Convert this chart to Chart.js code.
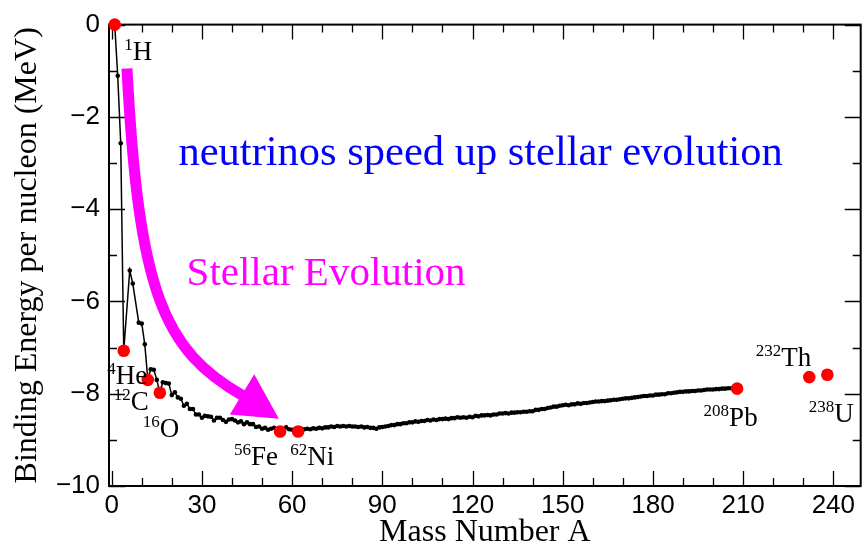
<!DOCTYPE html>
<html>
<head>
<meta charset="utf-8">
<script src="https://cdn.jsdelivr.net/npm/chart.js@4.4.1/dist/chart.umd.min.js"></script>
<style>
  html, body { margin: 0; padding: 0; background: #fff; }
  #wrap { width: 867px; height: 552px; }
</style>
</head>
<body>
<div id="wrap"><canvas id="myChart" width="867" height="552"></canvas></div>
<script>
const massNumber = [
  1, 2, 3, 4, 6, 7, 9, 10, 11, 12,
  13, 14, 15, 16, 17, 18, 19, 20, 21, 22,
  23, 24, 25, 26, 27, 28, 29, 30, 31, 32,
  33, 34, 35, 36, 37, 38, 39, 40, 41, 42,
  43, 44, 45, 46, 47, 48, 49, 50, 51, 52,
  53, 54, 55, 56, 57, 58, 59, 60, 61, 62,
  63, 64, 65, 66, 67, 68, 69, 70, 71, 72,
  73, 74, 75, 76, 77, 78, 79, 80, 81, 82,
  83, 84, 85, 86, 87, 88, 89, 90, 91, 92,
  93, 94, 95, 96, 97, 98, 99, 100, 101, 102,
  103, 104, 105, 106, 107, 108, 109, 110, 111, 112,
  113, 114, 115, 116, 117, 118, 119, 120, 121, 122,
  123, 124, 125, 126, 127, 128, 129, 130, 131, 132,
  133, 134, 135, 136, 137, 138, 139, 140, 141, 142,
  143, 144, 145, 146, 147, 148, 149, 150, 151, 152,
  153, 154, 155, 156, 157, 158, 159, 160, 161, 162,
  163, 164, 165, 166, 167, 168, 169, 170, 171, 172,
  173, 174, 175, 176, 177, 178, 179, 180, 181, 182,
  183, 184, 185, 186, 187, 188, 189, 190, 191, 192,
  193, 194, 195, 196, 197, 198, 199, 200, 201, 202,
  203, 204, 205, 206, 207, 208
];
const bindingEnergy = [
  0, -1.11, -2.57, -7.07, -5.33, -5.61, -6.46, -6.48, -6.93, -7.68,
  -7.47, -7.48, -7.70, -7.98, -7.75, -7.77, -7.78, -8.03, -7.97, -8.08,
  -8.11, -8.26, -8.22, -8.33, -8.33, -8.45, -8.45, -8.52, -8.48, -8.49,
  -8.50, -8.58, -8.52, -8.52, -8.57, -8.61, -8.56, -8.55, -8.58, -8.62,
  -8.60, -8.66, -8.62, -8.66, -8.66, -8.72, -8.71, -8.76, -8.74, -8.78,
  -8.76, -8.74, -8.77, -8.79, -8.77, -8.73, -8.77, -8.78, -8.77, -8.79,
  -8.76, -8.77, -8.76, -8.77, -8.75, -8.76, -8.74, -8.75, -8.73, -8.73,
  -8.71, -8.72, -8.70, -8.71, -8.70, -8.71, -8.70, -8.71, -8.71, -8.72,
  -8.71, -8.73, -8.72, -8.74, -8.74, -8.76, -8.73, -8.72, -8.71, -8.70,
  -8.68, -8.68, -8.66, -8.66, -8.64, -8.64, -8.62, -8.62, -8.60, -8.61,
  -8.59, -8.59, -8.57, -8.58, -8.56, -8.57, -8.55, -8.55, -8.54, -8.55,
  -8.53, -8.53, -8.51, -8.52, -8.51, -8.52, -8.50, -8.51, -8.48, -8.49,
  -8.47, -8.47, -8.46, -8.47, -8.45, -8.45, -8.43, -8.43, -8.42, -8.43,
  -8.41, -8.41, -8.40, -8.40, -8.39, -8.39, -8.38, -8.38, -8.35, -8.35,
  -8.33, -8.33, -8.31, -8.30, -8.28, -8.28, -8.26, -8.25, -8.24, -8.25,
  -8.23, -8.23, -8.21, -8.22, -8.20, -8.20, -8.19, -8.18, -8.17, -8.17,
  -8.16, -8.16, -8.15, -8.14, -8.13, -8.13, -8.12, -8.11, -8.10, -8.10,
  -8.09, -8.08, -8.07, -8.06, -8.05, -8.05, -8.04, -8.04, -8.02, -8.02,
  -8.01, -8.01, -7.99, -7.99, -7.98, -7.97, -7.96, -7.96, -7.95, -7.95,
  -7.94, -7.94, -7.93, -7.93, -7.92, -7.91, -7.91, -7.91, -7.90, -7.90,
  -7.89, -7.89, -7.88, -7.88, -7.87, -7.87
];
const isotopeMass = [1, 4, 12, 16, 56, 62, 208, 232, 238];
const isotopeEnergy = [0, -7.07, -7.70, -7.98, -8.82, -8.82, -7.89, -7.64, -7.59];
const isotopeSymbol = ["H", "He", "C", "O", "Fe", "Ni", "Pb", "Th", "U"];
const xTicks = [0, 30, 60, 90, 120, 150, 180, 210, 240];
const yTicks = [0, -2, -4, -6, -8, -10];
const xTitle = "Mass Number A";
const yTitle = "Binding Energy per nucleon (MeV)";
const headline = "neutrinos speed up stellar evolution";
const arrowLabel = "Stellar Evolution";

// label placement, px from each red dot: [left of symbol, baseline]
const labelOffsets = [[18, 35], [-8, 33], [-17, 30], [0, 44], [-29, 33], [9, 33], [-8, 37], [-28, -11], [7, 47]];
// big magenta arrow, in data units
const arrow = {
  start: [5.07, -0.95], c1: [9.0, -5.80], c2: [17.0, -7.05], end: [43.8, -8.05],
  tip: [55.6, -8.54], wingA: [39.3, -8.45], wingB: [47.4, -7.58]
};

const curve = massNumber.map((a, i) => ({x: a, y: bindingEnergy[i]}));
const isotopes = isotopeMass.map((a, i) => ({x: a, y: isotopeEnergy[i]}));

const decorations = {
  id: "decorations",
  beforeDatasetsDraw(chart) {
    const {ctx, chartArea: a, scales: {x, y}} = chart;
    const p = (pt) => [x.getPixelForValue(pt[0]), y.getPixelForValue(pt[1])];
    ctx.save();
    // frame + inward ticks on all four sides
    ctx.strokeStyle = "#000";
    ctx.lineWidth = 2;
    ctx.strokeRect(a.left, a.top, a.right - a.left, a.bottom - a.top);
    ctx.lineWidth = 1.3;
    ctx.beginPath();
    for (let v = 0; v <= 240; v += 10) {
      const px = Math.round(x.getPixelForValue(v)) + 0.5;
      const len = v % 30 === 0 ? 15 : 8;
      ctx.moveTo(px, a.bottom); ctx.lineTo(px, a.bottom - len);
      ctx.moveTo(px, a.top); ctx.lineTo(px, a.top + len);
    }
    for (let v = -10; v <= 0; v += 1) {
      const py = Math.round(y.getPixelForValue(v)) + 0.5;
      const len = v % 2 === 0 ? 16 : 8;
      ctx.moveTo(a.left, py); ctx.lineTo(a.left + len, py);
      ctx.moveTo(a.right, py); ctx.lineTo(a.right - len, py);
    }
    ctx.stroke();
    // arrow
    ctx.strokeStyle = "#ff00ff";
    ctx.fillStyle = "#ff00ff";
    ctx.lineWidth = 11;
    ctx.beginPath();
    ctx.moveTo(...p(arrow.start));
    ctx.bezierCurveTo(...p(arrow.c1), ...p(arrow.c2), ...p(arrow.end));
    ctx.stroke();
    ctx.beginPath();
    ctx.moveTo(...p(arrow.tip));
    ctx.lineTo(...p(arrow.wingA));
    ctx.lineTo(...p(arrow.wingB));
    ctx.closePath();
    ctx.fill();
    ctx.restore();
  },
  afterDatasetsDraw(chart) {
    const {ctx, scales: {x, y}} = chart;
    ctx.save();
    ctx.textBaseline = "alphabetic";
    ctx.textAlign = "left";
    ctx.fillStyle = "#0000ff";
    ctx.font = '42.5px "Liberation Serif"';
    ctx.fillText(headline, x.getPixelForValue(22.2), y.getPixelForValue(-3.05));
    ctx.fillStyle = "#ff00ff";
    ctx.font = '41px "Liberation Serif"';
    ctx.fillText(arrowLabel, x.getPixelForValue(24.9), y.getPixelForValue(-5.64));
    ctx.fillStyle = "#000";
    isotopeMass.forEach((m, i) => {
      const lx = x.getPixelForValue(m) + labelOffsets[i][0];
      const ly = y.getPixelForValue(isotopeEnergy[i]) + labelOffsets[i][1];
      ctx.textAlign = "left";
      ctx.font = '27px "Liberation Serif"';
      ctx.fillText(isotopeSymbol[i], lx, ly);
      ctx.textAlign = "right";
      ctx.font = '17px "Liberation Serif"';
      ctx.fillText(String(m), lx, ly - 10);
    });
    ctx.restore();
  }
};

new Chart(document.getElementById("myChart"), {
  type: "scatter",
  data: {
    datasets: [
      {
        data: isotopes,
        showLine: false,
        pointRadius: 6.3,
        pointBackgroundColor: "#ff0000",
        pointBorderWidth: 0,
        clip: false
      },
      {
        data: curve,
        showLine: true,
        borderColor: "#000",
        borderWidth: 1.5,
        pointRadius: 2.3,
        pointBackgroundColor: "#000",
        pointBorderWidth: 0,
        clip: false
      }
    ]
  },
  options: {
    responsive: false,
    animation: false,
    devicePixelRatio: 1,
    layout: { padding: { left: 0, right: 3, top: 17.5, bottom: 0 } },
    plugins: { legend: { display: false }, tooltip: { enabled: false } },
    scales: {
      x: {
        type: "linear",
        min: -0.9,
        max: 249.1,
        grid: { display: false, drawTicks: false },
        border: { display: false },
        afterBuildTicks: s => { s.ticks = xTicks.map(v => ({value: v})); },
        afterFit: s => { s.height = 66; },
        ticks: { color: "#000", font: { family: "Liberation Sans", size: 26 }, padding: 4, maxRotation: 0, autoSkip: false },
        title: { display: true, text: xTitle, color: "#000", font: { family: "Liberation Serif", size: 32 }, padding: { top: 0, bottom: 0 } }
      },
      y: {
        type: "linear",
        min: -10,
        max: 0,
        grid: { display: false, drawTicks: false },
        border: { display: false },
        afterBuildTicks: s => { s.ticks = yTicks.map(v => ({value: v})); },
        afterFit: s => { s.width = 109; },
        ticks: {
          color: "#000", font: { family: "Liberation Sans", size: 26 }, padding: 9,
          callback: v => v < 0 ? "\u2212" + Math.abs(v) : String(v)
        },
        title: { display: true, text: yTitle, color: "#000", font: { family: "Liberation Serif", size: 32 }, padding: { top: 8, bottom: 0 } }
      }
    }
  },
  plugins: [decorations]
});
</script>
</body>
</html>
